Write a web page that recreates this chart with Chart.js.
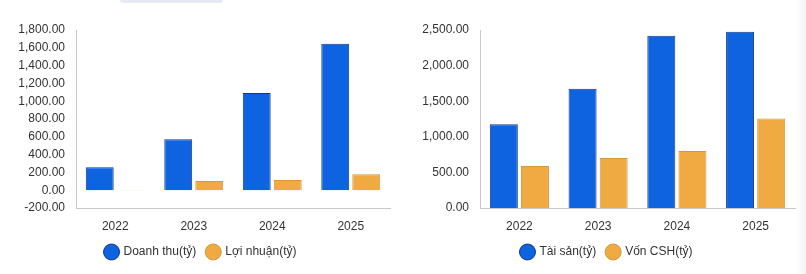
<!DOCTYPE html>
<html lang="vi">

<head>
    <meta charset="UTF-8">
    <title>Tài chính</title>
    <style>
        body { margin: 0; background: #fff; width: 806px; height: 274px; overflow: hidden; position: relative; }
        .tab-strip { position: absolute; left: 120px; top: 0; width: 103px; height: 3px; background: #e6ebf3; border-radius: 0 0 3px 3px; }
        .edge { position: absolute; right: 0; top: 0; width: 10px; height: 274px; background: linear-gradient(to right, #fff, #f3f3f3); }
        .box { position: absolute; top: 0; height: 274px; }
        #box1 { left: 0; width: 400px; }
        #box2 { left: 400px; width: 406px; }
    </style>
</head>

<body>
    <div class="tab-strip"></div>
    <div class="box" id="box1"><canvas id="chart1"></canvas></div>
    <div class="box" id="box2"><canvas id="chart2"></canvas></div>
    <div class="edge"></div>

    <script src="https://cdn.jsdelivr.net/npm/chart.js"></script>
    <script>
        // du lieu doc tu hinh
        const years = ['2022', '2023', '2024', '2025'];
        const doanhThu = [257, 572, 1092, 1645];
        const loiNhuan = [2, 103, 115, 178];
        const taiSan = [1177, 1675, 2418, 2476];
        const vonCSH = [590, 703, 800, 1258];

        const BLUE = '#0e63e1';
        const BLUE_BORDER = '#143a86';
        const ORANGE = '#f0aa42';
        const ORANGE_BORDER = '#d9973a';

        Chart.defaults.font.family = '"Liberation Sans", Arial, sans-serif';
        Chart.defaults.font.size = 12;
        Chart.defaults.color = '#333';

        function fmt(v) {
            return v.toLocaleString('en-US', { minimumFractionDigits: 2, maximumFractionDigits: 2 });
        }

        function makeChart(id, labelA, dataA, labelB, dataB, yMin, yMax, step, leftPad, axisW, rightPad) {
            return new Chart(document.getElementById(id), {
                type: 'bar',
                data: {
                    labels: years,
                    datasets: [
                        { label: labelA, data: dataA, backgroundColor: BLUE, borderColor: BLUE_BORDER, borderWidth: 1 },
                        { label: labelB, data: dataB, backgroundColor: ORANGE, borderColor: ORANGE_BORDER, borderWidth: 1 }
                    ]
                },
                options: {
                    responsive: true,
                    maintainAspectRatio: false,
                    animation: false,
                    categoryPercentage: 0.79,
                    barPercentage: 0.9,
                    layout: { padding: { top: 30, right: rightPad, bottom: 6, left: leftPad } },
                    plugins: {
                        tooltip: { enabled: false },
                        legend: {
                            position: 'bottom',
                            labels: {
                                usePointStyle: true,
                                pointStyle: 'circle',
                                boxHeight: 11.3,
                                padding: 11,
                                color: '#333',
                                font: { size: 12 }
                            }
                        }
                    },
                    scales: {
                        x: {
                            grid: { display: false, drawTicks: false },
                            border: { display: true, color: '#c8c8c8' },
                            ticks: { padding: 11, color: '#333' },
                            afterFit: s => { s.height = 27; }
                        },
                        y: {
                            min: yMin,
                            max: yMax,
                            grid: { display: false, drawTicks: false },
                            border: { display: true, color: '#c8c8c8' },
                            ticks: { stepSize: step, autoSkip: false, padding: 11, color: '#333', callback: v => fmt(v) },
                            afterFit: s => { s.width = axisW; }
                        }
                    }
                }
            });
        }

        makeChart('chart1', 'Doanh thu(tỷ)', doanhThu, 'Lợi nhuận(tỷ)', loiNhuan, -200, 1800, 200, 12, 64, 10);
        makeChart('chart2', 'Tài sản(tỷ)', taiSan, 'Vốn CSH(tỷ)', vonCSH, 0, 2500, 500, 19, 61, 11);
    </script>
</body>

</html>
